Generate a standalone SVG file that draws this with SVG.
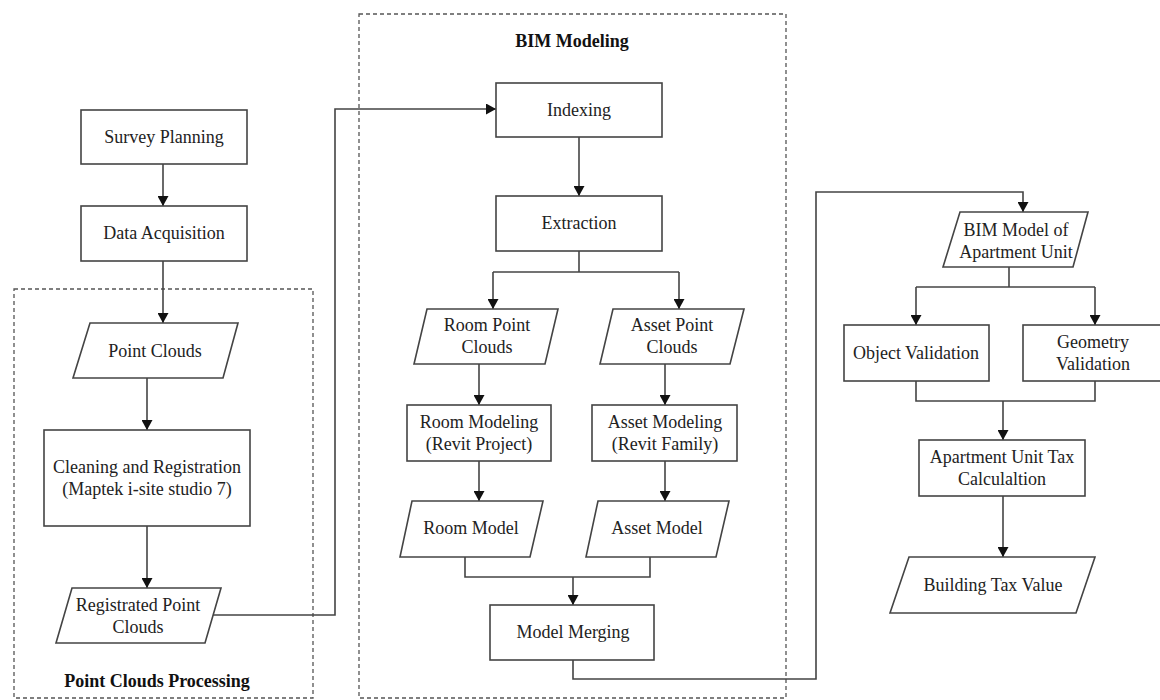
<svg xmlns="http://www.w3.org/2000/svg" width="1160" height="700" viewBox="0 0 1160 700">
<defs>
<marker id="arr" markerUnits="userSpaceOnUse" markerWidth="10" markerHeight="11" refX="10" refY="5.5" orient="auto">
<path d="M0,0 L10,5.5 L0,11 z" fill="#111"/>
</marker>
<style>
.box{fill:#fff;stroke:#444;stroke-width:1.6}
.grp{fill:none;stroke:#555;stroke-width:1.3;stroke-dasharray:4 3}
.ln{fill:none;stroke:#444;stroke-width:1.6}
.ar{fill:none;stroke:#444;stroke-width:1.6;marker-end:url(#arr)}
text{font-family:"Liberation Serif","Times New Roman",serif;font-size:18px;fill:#222;text-anchor:middle}
.ttl{font-weight:bold;fill:#111}
</style>
</defs>
<rect width="1160" height="700" fill="#fff"/>

<g id="group-pcp">
<rect class="grp" x="14" y="289" width="299" height="409"/>
<text class="ttl" x="157" y="687">Point Clouds Processing</text>
</g>
<g id="group-bim">
<rect class="grp" x="359" y="14" width="427" height="684"/>
<text class="ttl" x="572" y="47">BIM Modeling</text>
</g>

<g id="connectors">
<line class="ar" x1="163" y1="164" x2="163" y2="206"/>
<line class="ar" x1="163" y1="261" x2="163" y2="323"/>
<line class="ar" x1="147" y1="378" x2="147" y2="430"/>
<line class="ar" x1="147" y1="526" x2="147" y2="588"/>
<polyline class="ar" points="213,615 335,615 335,109 496,109"/>
<line class="ar" x1="579" y1="137" x2="579" y2="196"/>
<polyline class="ln" points="579,251 579,272"/>
<polyline class="ln" points="493,272 679,272"/>
<line class="ar" x1="493" y1="272" x2="493" y2="309"/>
<line class="ar" x1="679" y1="272" x2="679" y2="309"/>
<line class="ar" x1="479" y1="364" x2="479" y2="405"/>
<line class="ar" x1="665" y1="364" x2="665" y2="405"/>
<line class="ar" x1="479" y1="461" x2="479" y2="501"/>
<line class="ar" x1="665" y1="461" x2="665" y2="501"/>
<polyline class="ln" points="465,557 465,577 650,577 650,557"/>
<line class="ar" x1="573" y1="577" x2="573" y2="605"/>
<polyline class="ar" points="573,660 573,679 816,679 816,192 1023,192 1023,212"/>
<polyline class="ln" points="1009,267 1009,287"/>
<polyline class="ln" points="916,287 1095,287"/>
<line class="ar" x1="916" y1="287" x2="916" y2="325"/>
<line class="ar" x1="1095" y1="287" x2="1095" y2="325"/>
<polyline class="ln" points="916,381 916,401 1095,401 1095,381"/>
<line class="ar" x1="1003" y1="401" x2="1003" y2="440"/>
<line class="ar" x1="1003" y1="496" x2="1003" y2="557"/>
</g>

<g id="survey-planning">
<rect class="box" x="81" y="110" width="166" height="54"/>
<text x="164" y="143">Survey Planning</text>
</g>
<g id="data-acquisition">
<rect class="box" x="81" y="206" width="166" height="55"/>
<text x="164" y="239">Data Acquisition</text>
</g>
<g id="point-clouds">
<polygon class="box" points="90,323 238,323 223,378 73,378"/>
<text x="155" y="357">Point Clouds</text>
</g>
<g id="cleaning">
<rect class="box" x="44" y="430" width="206" height="96"/>
<text x="147" y="473">Cleaning and Registration</text>
<text x="147" y="495">(Maptek i-site studio 7)</text>
</g>
<g id="registrated">
<polygon class="box" points="72,588 221,588 205,643 56,643"/>
<text x="138" y="611">Registrated Point</text>
<text x="138" y="633">Clouds</text>
</g>

<g id="indexing">
<rect class="box" x="496" y="83" width="166" height="54"/>
<text x="579" y="116">Indexing</text>
</g>
<g id="extraction">
<rect class="box" x="496" y="196" width="166" height="55"/>
<text x="579" y="229">Extraction</text>
</g>
<g id="room-point-clouds">
<polygon class="box" points="427,309 558,309 545,364 414,364"/>
<text x="487" y="331">Room Point</text>
<text x="487" y="353">Clouds</text>
</g>
<g id="asset-point-clouds">
<polygon class="box" points="613,309 744,309 730,364 600,364"/>
<text x="672" y="331">Asset Point</text>
<text x="672" y="353">Clouds</text>
</g>
<g id="room-modeling">
<rect class="box" x="407" y="405" width="144" height="56"/>
<text x="479" y="428">Room Modeling</text>
<text x="479" y="450">(Revit Project)</text>
</g>
<g id="asset-modeling">
<rect class="box" x="592" y="405" width="145" height="56"/>
<text x="665" y="428">Asset Modeling</text>
<text x="665" y="450">(Revit Family)</text>
</g>
<g id="room-model">
<polygon class="box" points="412,501 543,501 530,557 400,557"/>
<text x="471" y="534">Room Model</text>
</g>
<g id="asset-model">
<polygon class="box" points="598,501 729,501 716,557 586,557"/>
<text x="657" y="534">Asset Model</text>
</g>
<g id="model-merging">
<rect class="box" x="490" y="605" width="164" height="55"/>
<text x="573" y="638">Model Merging</text>
</g>

<g id="bim-model-apartment">
<polygon class="box" points="960,212 1088,212 1073,267 943,267"/>
<text x="1016" y="236">BIM Model of</text>
<text x="1016" y="258">Apartment Unit</text>
</g>
<g id="object-validation">
<rect class="box" x="844" y="325" width="145" height="56"/>
<text x="916" y="359">Object Validation</text>
</g>
<g id="geometry-validation">
<rect class="box" x="1023" y="325" width="140" height="56"/>
<text x="1093" y="348">Geometry</text>
<text x="1093" y="370">Validation</text>
</g>
<g id="tax-calculation">
<rect class="box" x="919" y="440" width="166" height="56"/>
<text x="1002" y="463">Apartment Unit Tax</text>
<text x="1002" y="485">Calculaltion</text>
</g>
<g id="building-tax-value">
<polygon class="box" points="909,557 1095,557 1076,613 890,613"/>
<text x="993" y="591">Building Tax Value</text>
</g>
</svg>
